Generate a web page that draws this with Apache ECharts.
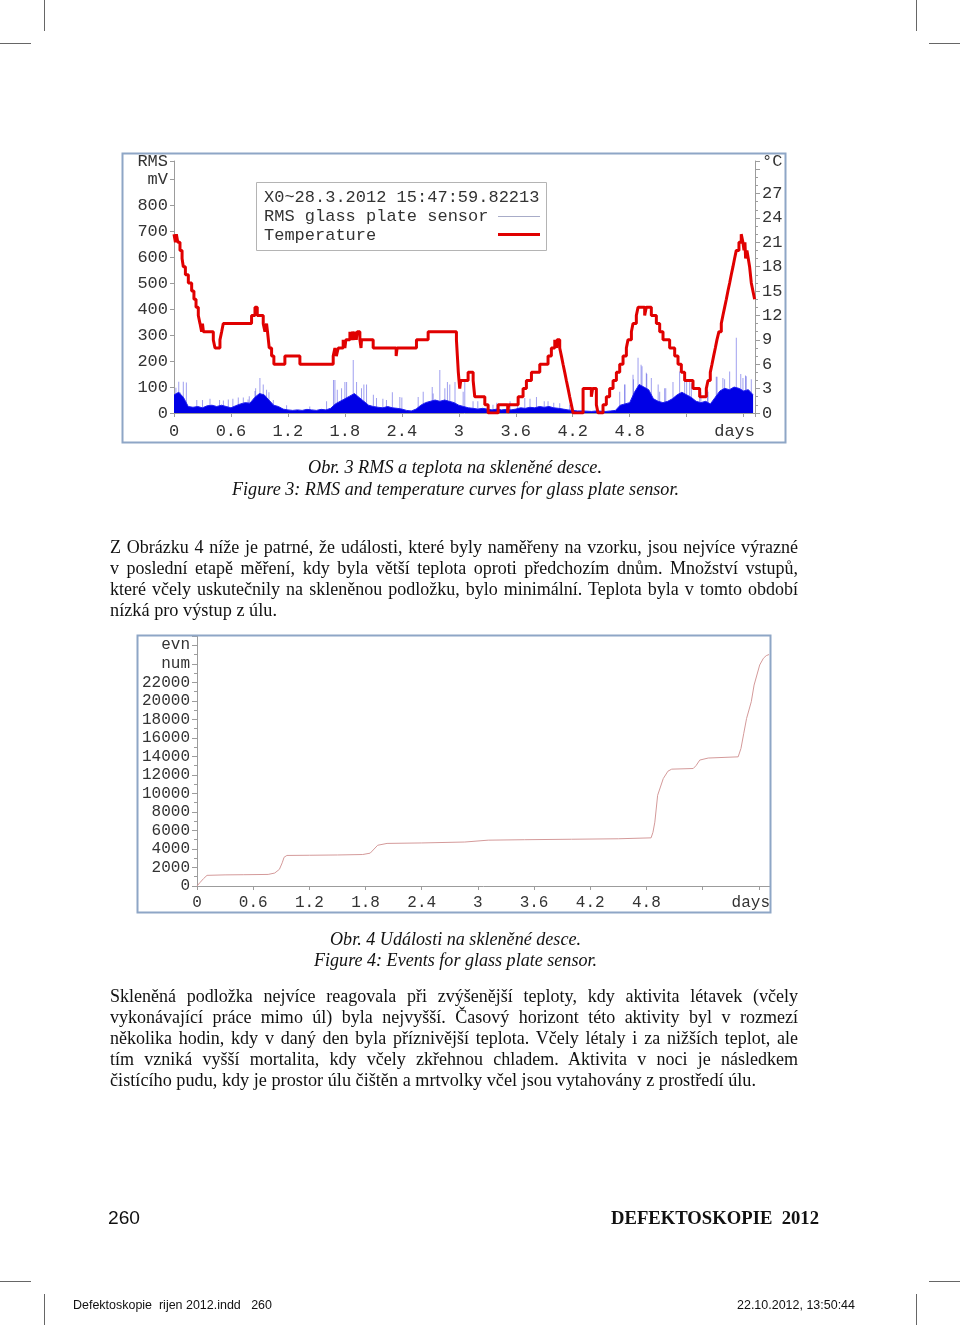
<!DOCTYPE html>
<html><head><meta charset="utf-8">
<script src="https://cdn.jsdelivr.net/npm/echarts@6/dist/echarts.min.js"></script>
<style>
html,body{margin:0;padding:0;background:#fff;}
#page{position:relative;width:960px;height:1325px;overflow:hidden;background:#fff;}
#chart{position:absolute;left:0;top:0;width:960px;height:1325px;}
.t{position:absolute;display:inline-block;white-space:pre;color:#111;font-family:"Liberation Serif","Times New Roman",serif;font-size:18px;line-height:21px;transform-origin:left center;}
.i{font-style:italic;}
.s{font-family:"Liberation Sans",Arial,sans-serif;}
.b{font-weight:bold;}
.mk{position:absolute;background:#666;}
</style></head>
<body><div id="page">
<div id="chart"></div>

<span class="t i" style="left:308px;top:457px" data-w="294">Obr. 3 RMS a teplota na skleněné desce.</span>
<span class="t i" style="left:232px;top:479px" data-w="447">Figure 3: RMS and temperature curves for glass plate sensor.</span>

<span class="t" style="left:110px;top:537px" data-w="688" data-m="j">Z Obrázku 4 níže je patrné, že události, které byly naměřeny na vzorku, jsou nejvíce výrazné</span>
<span class="t" style="left:110px;top:558px" data-w="688" data-m="j">v poslední etapě měření, kdy byla větší teplota oproti předchozím dnům. Množství vstupů,</span>
<span class="t" style="left:110px;top:579px" data-w="688" data-m="j">které včely uskutečnily na skleněnou podložku, bylo minimální. Teplota byla v tomto období</span>
<span class="t" style="left:110px;top:600px" data-w="167">nízká pro výstup z úlu.</span>

<span class="t i" style="left:330px;top:929px" data-w="251">Obr. 4 Události na skleněné desce.</span>
<span class="t i" style="left:314px;top:950px" data-w="283">Figure 4: Events for glass plate sensor.</span>

<span class="t" style="left:110px;top:986px" data-w="688" data-m="j">Skleněná podložka nejvíce reagovala při zvýšenější teploty, kdy aktivita létavek (včely</span>
<span class="t" style="left:110px;top:1007px" data-w="688" data-m="j">vykonávající práce mimo úl) byla nejvyšší. Časový horizont této aktivity byl v rozmezí</span>
<span class="t" style="left:110px;top:1028px" data-w="688" data-m="j">několika hodin, kdy v daný den byla příznivější teplota. Včely létaly i za nižších teplot, ale</span>
<span class="t" style="left:110px;top:1049px" data-w="688" data-m="j">tím vzniká vyšší mortalita, kdy včely zkřehnou chladem. Aktivita v noci je následkem</span>
<span class="t" style="left:110px;top:1070px" data-w="646">čistícího pudu, kdy je prostor úlu čištěn a mrtvolky včel jsou vytahovány z prostředí úlu.</span>

<span class="t s" style="left:108px;top:1206px;font-size:19px;line-height:24px" data-w="32">260</span>
<span class="t b" style="left:611px;top:1206px;font-size:19px;line-height:24px" data-w="208">DEFEKTOSKOPIE  2012</span>
<span class="t s" style="left:73px;top:1297px;font-size:13px;line-height:16px" data-w="199">Defektoskopie  rijen 2012.indd   260</span>
<span class="t s" style="left:737px;top:1297px;font-size:13px;line-height:16px" data-w="118">22.10.2012, 13:50:44</span>

<div class="mk" style="left:44px;top:0;width:1px;height:31px"></div>
<div class="mk" style="left:916px;top:0;width:1px;height:31px"></div>
<div class="mk" style="left:0;top:43px;width:31px;height:1px"></div>
<div class="mk" style="left:929px;top:43px;width:31px;height:1px"></div>
<div class="mk" style="left:0;top:1281px;width:31px;height:1px"></div>
<div class="mk" style="left:929px;top:1281px;width:31px;height:1px"></div>
<div class="mk" style="left:44px;top:1294px;width:1px;height:31px"></div>
<div class="mk" style="left:916px;top:1294px;width:1px;height:31px"></div>
</div>
<script>
// ---------- DATA ----------
// Figure 3: temperature (°C), stepped; [day, value after this moment]
const temperature = [
 [0,22],[0.015,21],[0.025,22],[0.04,21],[0.063,20],[0.085,19],[0.098,18],[0.12,17],[0.151,16],[0.186,15],
 [0.21,14],[0.232,13],[0.256,12],[0.274,11],[0.291,10],[0.30,11],[0.31,10],[0.414,9],[0.432,8],[0.484,9],
 [0.502,10],[0.519,11],[0.817,12],[0.853,13],[0.877,12],[0.94,11],[0.958,10],[0.975,11],[0.985,10],[1.003,8],
 [1.028,7],[1.052,6],[1.168,7],[1.326,6],[1.677,7],[1.695,8],[1.71,7],[1.73,8],[1.782,9],[1.80,8],
 [1.81,9],[1.853,10],[1.87,9],[1.88,10],[1.90,9],[1.91,10],[1.92,9],[1.93,10],[1.958,9],[1.97,8],
 [1.975,9],[2.098,8],[2.34,7],[2.35,8],[2.554,9],[2.677,10],[2.975,9],[2.985,7],[2.995,5],[3.002,4],
 [3.01,3],[3.02,4],[3.098,5],[3.151,4],[3.168,2],[3.274,1],[3.309,0],[3.414,1],[3.515,0],[3.525,1],
 [3.625,2],[3.677,3],[3.712,4],[3.765,5],[3.853,6],[3.94,7],[3.975,8],[4.011,9],[4.03,8],[4.035,9],
 [4.063,8],[4.081,7],[4.098,6],[4.116,5],[4.133,4],[4.151,3],[4.168,2],[4.186,1],[4.204,0],[4.309,3],
 [4.396,2],[4.41,3],[4.449,1],[4.467,0],[4.519,1],[4.554,2],[4.589,3],[4.625,4],[4.66,5],[4.695,6],
 [4.73,7],[4.765,8],[4.782,9],[4.818,10],[4.835,11],[4.87,12],[4.888,13],[4.958,12],[4.975,13],[5.028,12],
 [5.081,11],[5.116,10],[5.151,9],[5.221,8],[5.274,7],[5.309,6],[5.344,5],[5.379,4],[5.467,3],[5.537,2],
 [5.607,3],[5.625,4],[5.649,5],[5.667,6],[5.684,7],[5.702,8],[5.719,9],[5.74,10],[5.765,11],[5.782,12],
 [5.80,13],[5.818,14],[5.835,15],[5.853,16],[5.87,17],[5.888,18],[5.905,19],[5.923,20],[5.951,21],[5.975,22],
 [5.993,21],[6.004,20],[6.014,21],[6.021,19],[6.035,20],[6.049,19],[6.063,18],[6.081,16],[6.098,15],[6.116,14]
];
// Figure 3: RMS (mV), dense body of the signal
const rmsBody = [
 [0.00,70],[0.05,80],[0.10,60],[0.15,25],[0.20,22],[0.25,25],[0.30,20],[0.35,28],[0.40,30],[0.45,25],
 [0.50,30],[0.55,25],[0.60,20],[0.65,28],[0.70,35],[0.75,40],[0.80,38],[0.85,60],[0.90,75],[0.95,70],
 [1.00,50],[1.05,30],[1.10,25],[1.15,15],[1.20,12],[1.25,10],[1.30,12],[1.35,10],[1.40,14],[1.45,12],
 [1.50,10],[1.55,14],[1.60,12],[1.65,18],[1.70,35],[1.75,45],[1.80,55],[1.85,65],[1.90,75],[1.95,60],
 [2.00,45],[2.05,30],[2.10,25],[2.15,22],[2.20,20],[2.25,25],[2.30,20],[2.35,18],[2.40,15],[2.45,10],
 [2.50,8],[2.55,15],[2.60,30],[2.65,40],[2.70,45],[2.75,50],[2.80,45],[2.85,50],[2.90,45],[2.95,40],
 [3.00,30],[3.05,25],[3.10,20],[3.15,18],[3.20,15],[3.25,18],[3.30,15],[3.35,12],[3.40,15],[3.45,12],
 [3.50,14],[3.55,12],[3.60,15],[3.65,20],[3.70,18],[3.75,22],[3.80,20],[3.85,25],[3.90,22],[3.95,25],
 [4.00,20],[4.05,18],[4.10,15],[4.15,12],[4.20,10],[4.25,8],[4.30,8],[4.35,7],[4.40,6],[4.45,8],
 [4.50,7],[4.55,6],[4.60,8],[4.65,10],[4.70,30],[4.75,35],[4.80,40],[4.85,80],[4.90,110],[4.95,100],
 [5.00,90],[5.05,55],[5.10,45],[5.15,40],[5.20,45],[5.25,55],[5.30,70],[5.35,80],[5.40,70],[5.45,60],
 [5.50,45],[5.55,40],[5.60,45],[5.65,35],[5.70,60],[5.75,85],[5.80,95],[5.85,90],[5.90,100],[5.95,95],
 [6.00,85],[6.05,90],[6.10,70]
];
// Figure 3: RMS (mV), isolated peaks
const rmsPeaks = [
 [0.02,97],[0.05,121],[0.063,80],[0.098,121],[0.13,118],[0.24,50],[0.30,50],[0.379,55],[0.48,50],[0.52,48],
 [0.572,52],[0.62,55],[0.677,60],[0.73,60],[0.78,52],[0.793,65],[0.853,85],[0.86,95],[0.905,135],[0.94,110],
 [0.975,90],[1.00,80],[1.046,50],[1.186,30],[1.43,25],[1.607,45],[1.68,127],[1.695,127],[1.72,90],[1.765,95],
 [1.80,120],[1.818,120],[1.888,204],[1.923,120],[1.975,95],[2.00,110],[2.028,110],[2.10,70],[2.133,58],[2.20,55],
 [2.238,50],[2.30,80],[2.379,62],[2.40,60],[2.572,62],[2.625,82],[2.72,100],[2.73,75],[2.80,166],[2.853,95],
 [2.88,120],[2.905,110],[2.96,120],[3.046,82],[3.063,120],[3.15,45],[3.20,45],[3.36,32],[3.40,40],[3.54,45],
 [3.62,50],[3.695,58],[3.75,55],[3.818,62],[3.90,45],[3.94,45],[4.00,40],[4.063,38],[4.168,32],[4.695,82],
 [4.747,110],[4.75,110],[4.835,148],[4.84,130],[4.888,213],[4.92,186],[4.93,180],[4.975,155],[4.98,150],[5.028,135],
 [5.10,110],[5.116,82],[5.168,95],[5.18,95],[5.256,120],[5.326,160],[5.379,135],[5.40,130],[5.432,120],[5.45,115],
 [5.537,70],[5.55,80],[5.62,90],[5.625,82],[5.712,140],[5.72,140],[5.782,135],[5.80,130],[5.853,160],[5.923,290],
 [5.97,150],[5.993,135],[6.02,145],[6.028,142],[6.081,130]
];
// Figure 4: cumulative number of events
const events = [
 [0,0],[0.03,350],[0.07,800],[0.107,1150],[0.3,1200],[0.5,1220],[0.76,1250],[0.83,1400],[0.88,1800],[0.91,2500],
 [0.93,3100],[0.96,3300],[1.2,3320],[1.5,3350],[1.77,3400],[1.85,3550],[1.87,3700],[1.93,4400],[2.03,4600],[2.4,4650],
 [2.86,4750],[3.11,4950],[3.5,5000],[4.0,5050],[4.5,5100],[4.85,5200],[4.87,5800],[4.89,6900],[4.92,9800],[4.98,11600],
 [5.03,12400],[5.07,12620],[5.30,12690],[5.33,13000],[5.37,13600],[5.46,13820],[5.78,13950],[5.81,14860],[5.84,16500],[5.87,18100],
 [5.92,19900],[5.95,21700],[6.01,23870],[6.05,24600],[6.08,24880],[6.11,25000]
];
const legendLines = ['X0~28.3.2012 15:47:59.82213', 'RMS glass plate sensor', 'Temperature'];
const rmsAxisNames = {unit: 'mV', quantity: 'RMS'};
const tempAxisName = '°C';
const evAxisNames = {unit: 'num', quantity: 'evn'};
const xAxisName = 'days';

// ---------- CHART ----------
const MONO = '"Liberation Mono","Courier New",monospace';
const AX = '#9c9c9c', LBL = '#333';
const chart = echarts.init(document.getElementById('chart'), null, {renderer: 'canvas'});

function xAxisFor(grid, size, margin) {
  return {
    type: 'value', gridIndex: grid, min: 0, max: 6.12, interval: 0.6,
    axisLine: {lineStyle: {color: AX}}, axisTick: {length: 4, lineStyle: {color: AX}},
    splitLine: {show: false},
    axisLabel: {margin: margin, color: LBL, fontSize: size, fontFamily: MONO, showMaxLabel: true,
      alignMaxLabel: 'right',
      formatter: v => v > 6.05 ? xAxisName : (v > 5 ? '' : String(+v.toFixed(1)))}
  };
}

chart.setOption({
  animation: false,
  grid: [
    {left: 174, top: 161, width: 581, height: 252},
    {left: 197, top: 636, width: 573, height: 250}
  ],
  xAxis: [xAxisFor(0, 17, 10), xAxisFor(1, 16, 9)],
  yAxis: [
    {type: 'value', gridIndex: 0, position: 'left', min: 0, max: 972, interval: 100,
     axisLine: {show: true, lineStyle: {color: AX}}, axisTick: {show: true, length: 4, lineStyle: {color: AX}},
     splitLine: {show: false},
     axisLabel: {margin: 6, color: LBL, fontSize: 17, fontFamily: MONO, showMaxLabel: true,
       formatter: v => v > 950 ? rmsAxisNames.quantity : (v === 900 ? rmsAxisNames.unit : String(v))}},
    {type: 'value', gridIndex: 0, position: 'right', min: 0, max: 31, interval: 3,
     axisLine: {show: true, lineStyle: {color: AX}}, axisTick: {show: true, length: 5, lineStyle: {color: AX}},
     minorTick: {show: true, splitNumber: 3, length: 3, lineStyle: {color: AX}},
     splitLine: {show: false},
     axisLabel: {margin: 7, color: LBL, fontSize: 17, fontFamily: MONO, showMaxLabel: true,
       formatter: v => v > 30.5 ? tempAxisName : (v >= 30 ? '' : String(v))}},
    {type: 'value', gridIndex: 1, position: 'left', min: 0, max: 27000, interval: 2000,
     axisLine: {show: true, lineStyle: {color: AX}}, axisTick: {show: true, length: 5, lineStyle: {color: AX}},
     minorTick: {show: true, splitNumber: 2, length: 3, lineStyle: {color: AX}},
     splitLine: {show: false},
     axisLabel: {margin: 7, color: LBL, fontSize: 16, fontFamily: MONO, showMaxLabel: true,
       formatter: v => v === 26000 ? evAxisNames.quantity : (v === 24000 ? evAxisNames.unit : (v > 26000 ? '' : String(v)))}}
  ],
  series: [
    {name: legendLines[1], type: 'line', xAxisIndex: 0, yAxisIndex: 0, data: rmsBody, symbol: 'none',
     lineStyle: {width: 1, color: '#2020f0'}, areaStyle: {color: '#0000e6', opacity: 1}, z: 2},
    {name: legendLines[1] + ' peaks', type: 'bar', xAxisIndex: 0, yAxisIndex: 0, data: rmsPeaks, barWidth: 1,
     itemStyle: {color: 'rgba(80,80,225,0.55)'}, z: 1},
    {name: legendLines[2], type: 'line', xAxisIndex: 0, yAxisIndex: 1, data: temperature, step: 'end', symbol: 'none',
     lineStyle: {width: 3, color: '#e00000'}, z: 5},
    {name: 'events', type: 'line', xAxisIndex: 1, yAxisIndex: 2, data: events, symbol: 'none',
     lineStyle: {width: 1, color: '#d49a9a'}, z: 3}
  ],
  graphic: [
    {type: 'rect', shape: {x: 122.5, y: 153.5, width: 663, height: 289}, style: {fill: 'none', stroke: '#8ea6c6', lineWidth: 2}, z: 100},
    {type: 'rect', shape: {x: 137.5, y: 635.5, width: 633, height: 277}, style: {fill: 'none', stroke: '#8ea6c6', lineWidth: 2}, z: 100},
    {type: 'rect', shape: {x: 256.5, y: 182.5, width: 290, height: 68}, style: {fill: '#fff', stroke: '#b4b4b4', lineWidth: 1}, z: 100},
    {type: 'text', x: 264, y: 197, style: {text: legendLines[0], fill: LBL, font: '17px ' + MONO, textVerticalAlign: 'middle'}, z: 101},
    {type: 'text', x: 264, y: 216, style: {text: legendLines[1], fill: LBL, font: '17px ' + MONO, textVerticalAlign: 'middle'}, z: 101},
    {type: 'text', x: 264, y: 235, style: {text: legendLines[2], fill: LBL, font: '17px ' + MONO, textVerticalAlign: 'middle'}, z: 101},
    {type: 'line', shape: {x1: 498, y1: 216.5, x2: 540, y2: 216.5}, style: {stroke: '#a8acc8', lineWidth: 1}, z: 101},
    {type: 'line', shape: {x1: 498, y1: 234.5, x2: 540, y2: 234.5}, style: {stroke: '#e00000', lineWidth: 3}, z: 101}
  ]
});

// ---------- fit page text lines to the reference widths ----------
document.querySelectorAll('[data-w]').forEach(el => {
  const target = +el.dataset.w;
  const w = el.getBoundingClientRect().width;
  if (el.dataset.m === 'j' && w < target) {
    const n = (el.textContent.match(/[ \u00a0]/g) || []).length;
    if (n) el.style.wordSpacing = ((target - w) / n) + 'px';
  } else if (w > 0) {
    el.style.transform = 'scaleX(' + (target / w) + ')';
  }
});
</script>
</body></html>
